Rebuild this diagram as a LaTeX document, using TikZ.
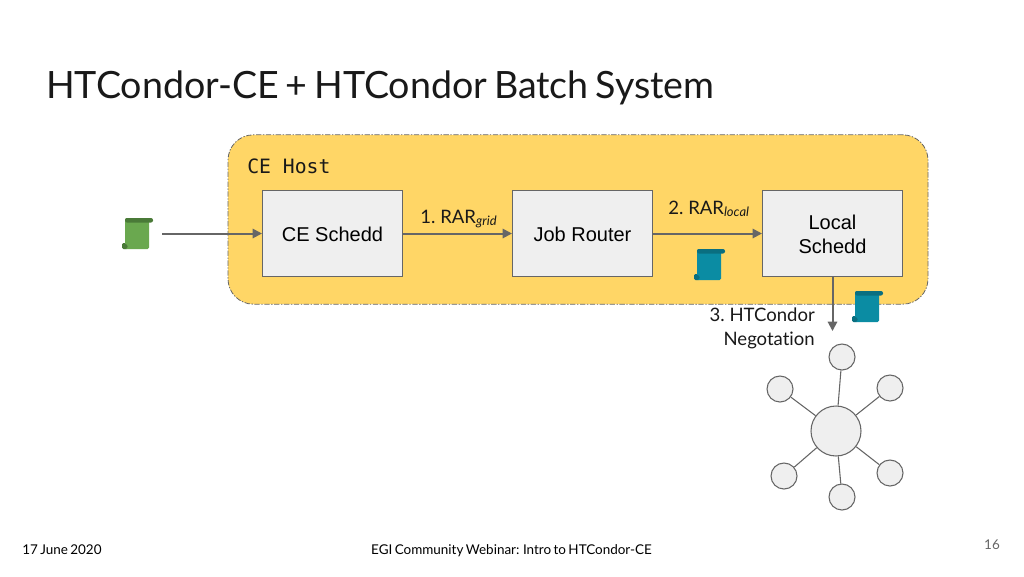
\documentclass[tikz,border=0pt]{standalone}
\usepackage{fontspec}
\setmainfont[WordSpace=0.7,Ligatures={NoCommon,TeX}]{Lato}
\newfontfamily\boxfont{Liberation Sans}
\newfontfamily\monofont{DejaVu Sans Mono}
\usetikzlibrary{arrows.meta}
\definecolor{hostfill}{HTML}{FFD666}
\definecolor{boxfill}{HTML}{EFEFEF}
\definecolor{linegray}{HTML}{666666}
\definecolor{scrollgreen}{HTML}{6AA84F}
\definecolor{scrollgreendark}{HTML}{4A7A38}
\definecolor{scrollteal}{HTML}{0B8CA3}
\definecolor{scrolltealdark}{HTML}{0A6F80}
\newcommand{\lowertext}[1]{\raisebox{-0.7pt}[\height][\depth]{#1}}
\tikzset{
  host/.style={draw=linegray,fill=hostfill,line width=0.6pt,dash pattern=on 4pt off 1.2pt on 1pt off 1.2pt,rounded corners=19pt,minimum width=525pt,minimum height=127pt,inner sep=0pt},
  procbox/.style={draw=linegray,fill=boxfill,line width=0.8pt,minimum width=105pt,minimum height=65pt,inner sep=0pt,align=center,font=\boxfont\fontsize{15}{18}\selectfont},
  flow/.style={draw=linegray,line width=1.5pt,-{Triangle[length=7pt,width=7pt]}},
  label/.style={inner sep=0pt,font=\fontsize{13.9}{18}\selectfont,text=black!90},
  foot/.style={inner sep=0pt,font=\fontsize{10.1}{11}\selectfont},
  bigc/.style={circle,draw=linegray,fill=boxfill,line width=0.8pt,minimum size=37.5pt,inner sep=0pt},
  smallc/.style={circle,draw=linegray,fill=boxfill,line width=0.8pt,minimum size=19.5pt,inner sep=0pt},
  spoke/.style={draw=linegray,line width=0.8pt},
  pics/scroll/.style n args={2}{code={
    \fill[#2,rounded corners=1pt] (-3,25) rectangle (3,31);
    \fill[#1,rounded corners=1pt] (0,0) rectangle (24,31);
    \fill[#2,rounded corners=1.5pt] (0,0) rectangle (28,4.5);
    \fill[#2] (0,28.5) circle[radius=2.6];
  }}
}
\begin{document}
\begin{tikzpicture}[x=0.75pt,y=-0.75pt]
\useasboundingbox (0,0) rectangle (1024,576);
\fill[white] (0,0) rectangle (1024,576);
\node[anchor=base west,inner sep=0pt,font=\fontsize{28.2}{32}\selectfont,text=black!90] (title) at (46,98) {HTCondor-CE + HTCondor Batch System};
\node[host] (hostbox) at (578,219.5) {};
\node[anchor=west,inner sep=0pt,font=\monofont\fontsize{14.8}{18}\selectfont,text=black!90] (hostlabel) at (247,166) {CE Host};
\node[procbox] (schedd) at (332.5,233.5) {\lowertext{CE Schedd}};
\node[procbox] (router) at (582.5,233.5) {\lowertext{Job Router}};
\node[procbox] (local) at (832.5,233.5) {\lowertext{Local}\\\lowertext{Schedd}};
\coordinate (start) at (162,233.5);
\coordinate (negotiate) at (832.5,331);
\draw[flow] (start) -- (schedd);
\draw[flow] (schedd) -- (router);
\draw[flow] (router) -- (local);
\draw[flow] (local) -- (negotiate);
\node[label,anchor=base west] (rar1) at (420,223) {1. RAR\textsubscript{\textit{grid}}};
\node[label,anchor=base west] (rar2) at (668,214) {2. RAR\textsubscript{\textit{local}}};
\node[label,anchor=base east,align=right] (nego1) at (815,321) {3. HTCondor};
\node[label,anchor=base east,align=right] (nego2) at (815,345) {Negotation};
\pic at (125,218) {scroll={scrollgreen}{scrollgreendark}};
\pic at (697,249) {scroll={scrollteal}{scrolltealdark}};
\pic at (855,291) {scroll={scrollteal}{scrolltealdark}};
\node[bigc] (hub) at (836,431) {};
\node[smallc] (n1) at (842,357) {};
\node[smallc] (n2) at (780,389) {};
\node[smallc] (n3) at (890,388) {};
\node[smallc] (n4) at (784,476) {};
\node[smallc] (n5) at (890,473) {};
\node[smallc] (n6) at (842,497) {};
\foreach \n in {n1,n2,n3,n4,n5,n6} \draw[spoke] (hub) -- (\n);
\node[foot,anchor=base west] (date) at (22,554) {17 June 2020};
\node[foot,anchor=base] (event) at (511.5,554) {EGI Community Webinar: Intro to HTCondor-CE};
\node[foot,anchor=base,text=black!60] (page) at (992,549) {16};
\end{tikzpicture}
\end{document}
